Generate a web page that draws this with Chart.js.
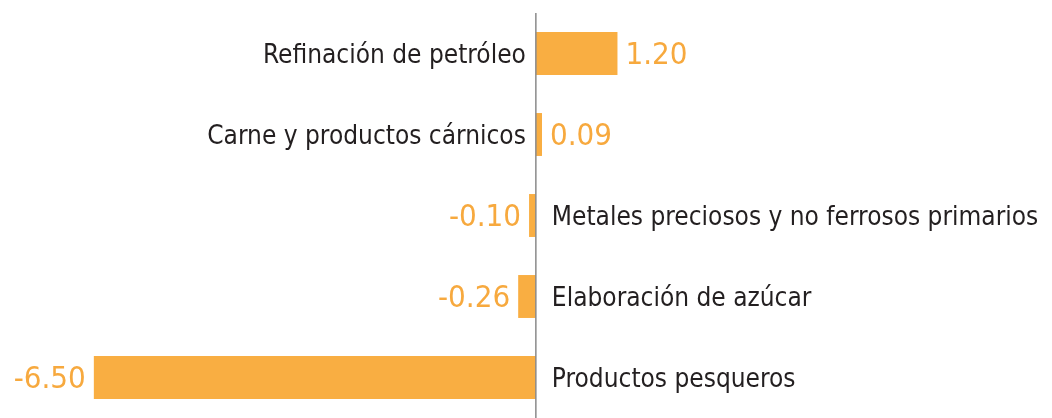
<!DOCTYPE html>
<html>
<head>
<meta charset="utf-8">
<script src="https://cdn.jsdelivr.net/npm/chart.js@4/dist/chart.umd.min.js"></script>
<style>
  body { margin: 0; background: #fff; }
  #wrap { width: 1052px; height: 418px; position: relative; }
</style>
</head>
<body>
<div id="wrap"><canvas id="chart"></canvas></div>
<script>
const categories = [
    'Refinación de petróleo',
    'Carne y productos cárnicos',
    'Metales preciosos y no ferrosos primarios',
    'Elaboración de azúcar',
    'Productos pesqueros'
];
const values = [1.20, 0.09, -0.10, -0.26, -6.50];

const barColor = '#F9AE42';
const valueColor = '#F7A93E';
const textColor = '#231F20';
const labelFont = '26px "Liberation Sans Narrow", "DejaVu Sans Condensed", sans-serif';
const valueFont = '31px "Liberation Sans Narrow", "DejaVu Sans Condensed", sans-serif';

// draws the zero line, category names and value labels next to each bar
const labelPlugin = {
    id: 'labels',
    afterDatasetsDraw(chart) {
        const ctx = chart.ctx;
        const xScale = chart.scales.x;
        const area = chart.chartArea;
        const zero = xScale.getPixelForValue(0);

        ctx.save();
        ctx.strokeStyle = '#8a8a8a';
        ctx.lineWidth = 1.5;
        ctx.beginPath();
        ctx.moveTo(zero, area.top);
        ctx.lineTo(zero, area.bottom);
        ctx.stroke();

        const bars = chart.getDatasetMeta(0).data;
        ctx.textBaseline = 'middle';
        bars.forEach((bar, i) => {
            const v = values[i];
            const y = bar.y + 3;
            // category name on the opposite side of the axis
            ctx.font = labelFont;
            ctx.fillStyle = textColor;
            if (v >= 0) {
                ctx.textAlign = 'right';
                ctx.fillText(categories[i], zero - 10, y);
            } else {
                ctx.textAlign = 'left';
                ctx.fillText(categories[i], zero + 16, y);
            }
            // value at the bar end
            ctx.font = valueFont;
            ctx.fillStyle = valueColor;
            if (v >= 0) {
                ctx.textAlign = 'left';
                ctx.fillText(v.toFixed(2), bar.x + 8, y - 1);
            } else {
                ctx.textAlign = 'right';
                ctx.fillText(v.toFixed(2), bar.x - 8, y - 1);
            }
        });
        ctx.restore();
    }
};

new Chart(document.getElementById('chart'), {
    type: 'bar',
    data: {
        labels: categories,
        datasets: [{
            data: values,
            backgroundColor: barColor,
            borderWidth: 0,
            barPercentage: 0.53,
            categoryPercentage: 1
        }]
    },
    options: {
        indexAxis: 'y',
        responsive: true,
        maintainAspectRatio: false,
        animation: false,
        layout: { padding: { top: 13, bottom: 0, left: 0, right: 0 } },
        plugins: {
            legend: { display: false },
            tooltip: { enabled: false }
        },
        scales: {
            x: { display: false, min: -7.88, max: 7.59 },
            y: { display: false }
        }
    },
    plugins: [labelPlugin]
});
</script>
</body>
</html>
